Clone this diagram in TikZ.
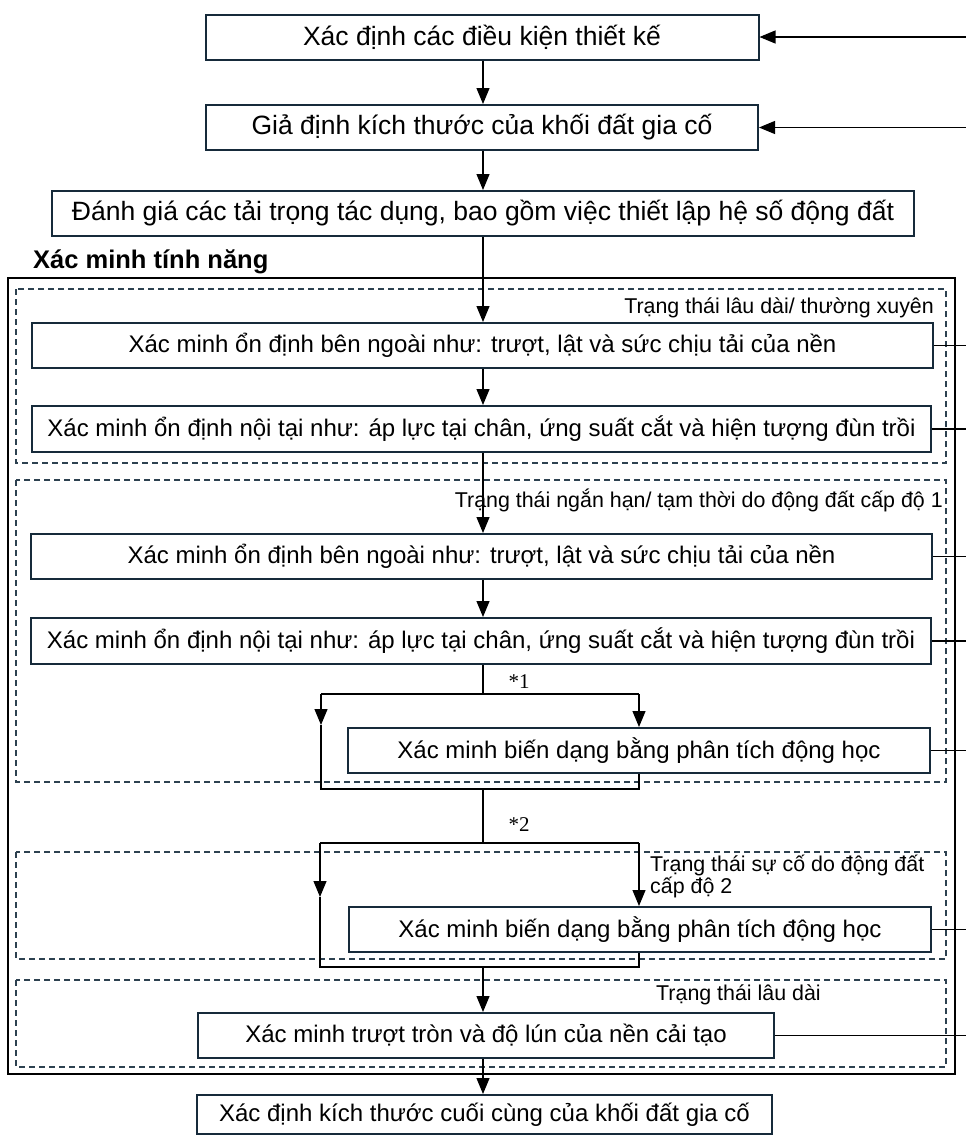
\documentclass[tikz,border=0pt]{standalone}
\usepackage{fontspec}
\setmainfont{Liberation Sans}
\newfontfamily\serifA{Liberation Serif}
\usetikzlibrary{arrows.meta}
\definecolor{boxc}{RGB}{22,42,58}
\definecolor{dashc}{RGB}{45,65,80}
\begin{document}
\begin{tikzpicture}[x=1pt,y=-1pt,
  box/.style={draw=boxc, line width=2pt, minimum height=45pt, inner sep=0pt,
    font=\fontsize{24}{28}\selectfont},
  tbox/.style={box, font=\fontsize{26.5}{30}\selectfont},
  zone/.style={draw=dashc, line width=1.1pt, dash pattern=on 6pt off 4pt},
  frame/.style={draw=black, line width=2pt},
  line/.style={draw=black, line width=1.2pt},
  arr/.style={line, -{Triangle[length=16pt,width=13pt]}},
  lab/.style={inner sep=0pt, font=\fontsize{21.4}{20}\selectfont},
  star/.style={inner sep=0pt, font=\serifA\fontsize{21}{22}\selectfont}
]
\useasboundingbox (0,0) rectangle (966,1136);
% geometry helpers
\coordinate (m) at (483,0);
\coordinate (rx) at (966,0);

% top boxes
\node[tbox, minimum width=553pt] (b1) at (482,37) {Xác định các điều kiện thiết kế};
\node[tbox, minimum width=552pt] (b2) at (482,127.5) {Giả định kích thước của khối đất gia cố};
\node[tbox, minimum width=862pt] (b3) at (483,213.5) {Đánh giá các tải trọng tác dụng, bao gồm việc thiết lập hệ số động đất};

% title and frames
\node[anchor=base west, inner sep=0pt, font=\bfseries\fontsize{25.5}{28}\selectfont] (title) at (33,268) {Xác minh tính năng};
\draw[frame] (8,278) rectangle (955,1074);
\draw[zone] (16,289) rectangle (946,463);
\draw[zone] (16,480) rectangle (946,782);
\draw[zone] (16,852) rectangle (946,959);
\draw[zone] (16,980) rectangle (946,1067);

% zone labels
\node[lab, anchor=base east] (z1) at (934,313) {Trạng thái lâu dài/ thường xuyên};
\node[lab, anchor=base east] (z2) at (943,507) {Trạng thái ngắn hạn/ tạm thời do động đất cấp độ 1};
\node[lab, anchor=base west, align=left] (z3) at (650,893) {Trạng thái sự cố do động đất\\cấp độ 2};
\node[lab, anchor=base west] (z4) at (656,1000) {Trạng thái lâu dài};

% inner boxes
\node[box, minimum width=901pt] (b4) at (482.5,345.5) {Xác minh ổn định bên ngoài như: trượt, lật và sức chịu tải của nền};
\node[box, minimum width=899pt, minimum height=46pt] (b5) at (481.5,429) {Xác minh ổn định nội tại như: áp lực tại chân, ứng suất cắt và hiện tượng đùn trồi};
\node[box, minimum width=901pt] (b6) at (481.5,556.5) {Xác minh ổn định bên ngoài như: trượt, lật và sức chịu tải của nền};
\node[box, minimum width=900pt, minimum height=46pt] (b7) at (481,641) {Xác minh ổn định nội tại như: áp lực tại chân, ứng suất cắt và hiện tượng đùn trồi};
\node[box, minimum width=582pt] (b8) at (639,750.5) {Xác minh biến dạng bằng phân tích động học};
\node[box, minimum width=582pt] (b9) at (640,929.5) {Xác minh biến dạng bằng phân tích động học};
\node[box, minimum width=576pt] (b10) at (486,1035.5) {Xác minh trượt tròn và độ lún của nền cải tạo};
\node[box, minimum width=575pt, minimum height=39pt] (b11) at (484.5,1114.5) {Xác định kích thước cuối cùng của khối đất gia cố};

% input arrows from right
\draw[arr] (b1.east -| rx) -- (b1.east);
\draw[arr] (b2.east -| rx) -- (b2.east);

% output lines to right
\foreach \b in {b4,b5,b6,b7,b8,b9,b10}
  \draw[line] (\b.east) -- (\b.east -| rx);

% main flow
\draw[arr] (b1.south -| m) -- (b2.north -| m);
\draw[arr] (b2.south -| m) -- (b3.north -| m);
\draw[arr] (b3.south -| m) -- (b4.north -| m);
\draw[arr] (b4.south -| m) -- (b5.north -| m);
\draw[arr] (b5.south -| m) -- (b6.north -| m);
\draw[arr] (b6.south -| m) -- (b7.north -| m);

% split 1
\coordinate (k1) at (483,694);
\coordinate (k1l) at (321,694);
\coordinate (k1r) at (639,694);
\coordinate (a1l) at (321,725);
\coordinate (j1l) at (321,789);
\coordinate (j1r) at (639,789);
\coordinate (j1) at (483,789);
\draw[line] (b7.south -| m) -- (k1);
\draw[line] (k1l) -- (k1r);
\draw[arr] (k1l) -- (a1l);
\draw[arr] (k1r) -- (b8.north -| k1r);
\draw[line] (a1l) -- (j1l) -- (j1r) -- (b8.south -| j1r);
\node[star] (s1) at (519,682) {*1};

% split 2
\coordinate (k2) at (483,843);
\coordinate (k2l) at (320,843);
\coordinate (k2r) at (639,843);
\coordinate (a2l) at (320,897);
\coordinate (j2l) at (320,967);
\coordinate (j2r) at (639,967);
\coordinate (j2) at (483,967);
\draw[line] (j1) -- (k2);
\draw[line] (k2l) -- (k2r);
\draw[arr] (k2l) -- (a2l);
\draw[arr] (k2r) -- (b9.north -| k2r);
\draw[line] (a2l) -- (j2l) -- (j2r) -- (b9.south -| j2r);
\node[star] (s2) at (519,825) {*2};

% end
\draw[arr] (j2) -- (b10.north -| j2);
\draw[arr] (b10.south -| m) -- (b11.north -| m);
\end{tikzpicture}
\end{document}
